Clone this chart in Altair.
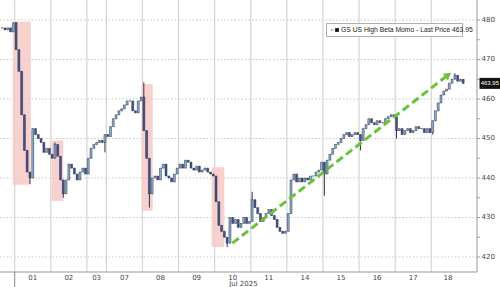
import altair as alt
import pandas as pd

# ---- data (30-minute bars, closes) ----
day_labels = ["01", "02", "03", "07", "08", "09", "10", "11", "14", "15", "16", "17", "18"]
jun30 = [478.0, 477.5, 478.0, 477.0, 479.3]
jul01 = [472.5, 467.0, 456.0, 447.0, 441.5, 440.0, 452.5, 451.0, 450.0, 449.0, 446.5, 447.5, 446.0]
jul02 = [445.0, 448.5, 445.5, 439.5, 436.0, 439.5, 443.5, 442.5, 441.0, 439.5, 441.5, 442.5, 441.0]
jul03 = [445.0, 447.5, 448.5, 449.0, 449.5, 449.0, 451.0]
jul07 = [450.5, 453.0, 455.0, 456.0, 457.0, 457.5, 458.5, 459.5, 459.5, 457.0, 456.5, 459.5, 460.5]
jul08 = [452.0, 445.0, 436.0, 440.0, 440.5, 439.5, 442.5, 443.5, 440.5, 440.0, 439.0, 441.0, 442.5]
jul09 = [443.5, 442.5, 444.5, 444.0, 442.5, 442.0, 443.0, 441.5, 442.0, 442.5, 441.5, 441.0, 440.5]
jul10 = [434.0, 428.0, 426.5, 425.0, 423.5, 430.0, 428.5, 429.5, 427.5, 428.5, 430.0, 428.5, 429.0]
jul11 = [434.5, 432.5, 431.0, 429.0, 430.0, 431.0, 432.0, 430.5, 429.5, 427.5, 426.5, 426.0, 426.5]
jul14 = [431.0, 439.5, 441.0, 439.0, 440.0, 439.0, 440.0, 439.5, 440.5, 440.5, 441.5, 442.0, 444.0]
jul15 = [441.0, 444.5, 446.0, 447.5, 448.5, 449.0, 450.0, 451.0, 451.5, 450.5, 451.0, 451.5, 451.0]
jul16 = [449.5, 452.5, 453.5, 455.0, 454.0, 453.5, 454.5, 454.0, 454.0, 455.0, 455.5, 456.0, 455.5]
jul17 = [452.0, 452.5, 451.0, 452.0, 452.5, 451.5, 452.0, 453.0, 452.5, 452.5, 451.5, 452.5, 451.5]
jul18 = [454.5, 457.0, 459.0, 461.0, 462.0, 462.5, 464.0, 465.0, 466.0, 464.5, 465.0, 463.95]

wick_high = {5: 479.5, 19: 449.0, 51: 464.2, 90: 436.5, 163: 466.5}
wick_low = {10: 438.5, 22: 435.0, 37: 446.5, 53: 432.5, 81: 422.5, 116: 435.5, 129: 447.0, 142: 450.0, 155: 451.0}

# shaded selloff boxes: (bar from, bar to, price top, price bottom)
shade_x1 = [4.3, 18.3, 50.7, 75.9]
shade_x2 = [10.8, 22.5, 54.7, 80.5]
shade_top = [479.6, 449.5, 463.8, 442.7]
shade_bot = [438.3, 434.2, 431.7, 422.5]

arrow_from = (83.4, 423.5)
arrow_to = (162.3, 466.9)

y_ticks = [420, 425, 430, 435, 440, 445, 450, 455, 460, 465, 470, 475, 480]
y_labels = [420, 430, 440, 450, 460, 470, 480]
last_price = 463.95
legend_text = "GS US High Beta Momo - Last Price 463.95"

# ---- build tables ----
days = [jul01, jul02, jul03, jul07, jul08, jul09, jul10, jul11, jul14, jul15, jul16, jul17, jul18]
closes = list(jun30)
starts, centers = [], []
for d in days:
    starts.append(len(closes))
    centers.append(len(closes) + len(d) / 2)
    closes += d

rows = []
for i, c in enumerate(closes):
    o = closes[i - 1] if i > 0 else c
    hi = max(o, c, wick_high.get(i, c))
    lo = min(o, c, wick_low.get(i, c))
    rows.append({"x": i + 0.5, "xa": i + 0.15, "xb": i + 0.85, "open": o, "close": c,
                 "high": hi, "low": lo, "dir": "up" if c >= o else "down"})
bars = pd.DataFrame(rows)

xs = alt.Scale(domain=[-0.29, 171.47], nice=False, zero=False)
ys = alt.Scale(domain=[416.2, 485.06], nice=False, zero=False)

hgrid = alt.Chart(pd.DataFrame({"v": y_labels})).mark_rule(
    color="#b9b9b9", strokeDash=[1.5, 2], strokeWidth=0.8
).encode(y=alt.Y("v:Q", scale=ys, axis=None), x=alt.value(0), x2=alt.value(477))

vgrid = alt.Chart(pd.DataFrame({"s": starts})).mark_rule(
    color="#d4d4d4", strokeWidth=1.2
).encode(x=alt.X("s:Q", scale=xs, axis=None), y=alt.value(0), y2=alt.value(272))

shade = alt.Chart(pd.DataFrame({"a": shade_x1, "b": shade_x2, "t": shade_top, "u": shade_bot})).mark_rect(
    color="#f5c9c4", opacity=0.85
).encode(x=alt.X("a:Q", scale=xs, axis=None), x2="b:Q",
         y=alt.Y("t:Q", scale=ys, axis=None), y2="u:Q")

wicks = alt.Chart(bars).mark_rule(color="#2c3647", strokeWidth=1).encode(
    x=alt.X("x:Q", scale=xs, axis=None),
    y=alt.Y("low:Q", scale=ys, axis=None), y2="high:Q")

bodies = alt.Chart(bars).mark_bar(stroke="#283245", strokeWidth=0.5).encode(
    x=alt.X("xa:Q", scale=xs, axis=None), x2="xb:Q",
    y=alt.Y("open:Q", scale=ys, axis=None),
    y2="close:Q",
    color=alt.Color("dir:N", scale=alt.Scale(domain=["up", "down"], range=["#8fb3d6", "#44528f"]),
                    legend=None))

arrow_df = pd.DataFrame({"x": [arrow_from[0], arrow_to[0] - 1.6], "y": [arrow_from[1], arrow_to[1] - 1.0]})
arrow_line = alt.Chart(arrow_df).mark_line(color="#6cc13f", strokeWidth=3, strokeDash=[8, 4]).encode(
    x=alt.X("x:Q", scale=xs, axis=None), y=alt.Y("y:Q", scale=ys, axis=None))
arrow_head = alt.Chart(pd.DataFrame({"x": [arrow_to[0] - 1.2], "y": [arrow_to[1] - 0.8]})).mark_point(
    shape="triangle-up", filled=True, color="#6cc13f", size=70, angle=52, opacity=1
).encode(x=alt.X("x:Q", scale=xs, axis=None), y=alt.Y("y:Q", scale=ys, axis=None))

leg_box = alt.Chart(pd.DataFrame({"t": [legend_text]})).mark_rect(
    fill="white", stroke="#9a9a9a", strokeWidth=0.8
).encode(x=alt.value(326.5), x2=alt.value(462.5), y=alt.value(23.5), y2=alt.value(36.5))
leg_txt = alt.Chart(pd.DataFrame({"t": [legend_text]})).mark_text(
    align="left", baseline="middle", fontSize=6.75, font="Liberation Sans", color="#222"
).encode(text="t:N", x=alt.value(341), y=alt.value(30.2))
leg_sq = alt.Chart(pd.DataFrame({"t": [legend_text]})).mark_square(
    color="#111", size=14, opacity=1
).encode(x=alt.value(337), y=alt.value(30))
leg_eq = alt.Chart(pd.DataFrame({"t": [legend_text]})).mark_text(
    align="center", baseline="middle", fontSize=6, color="#999", text="="
).encode(x=alt.value(332), y=alt.value(30))

# right axis drawn by hand
ydomain = alt.Chart(pd.DataFrame({"a": [0]})).mark_rule(color="#999", strokeWidth=1).encode(
    x=alt.value(477), y=alt.value(0), y2=alt.value(272))
yticks = alt.Chart(pd.DataFrame({"v": y_ticks})).mark_rule(color="#888", strokeWidth=0.8).encode(
    y=alt.Y("v:Q", scale=ys, axis=None), x=alt.value(477), x2=alt.value(480))
ylab = alt.Chart(pd.DataFrame({"v": y_labels})).mark_text(
    align="left", baseline="middle", fontSize=7, font="DejaVu Sans", color="#444"
).encode(y=alt.Y("v:Q", scale=ys, axis=None), x=alt.value(481.5), text="v:Q")

tag_df = pd.DataFrame({"p": [last_price], "t": [f"{last_price:.2f}"]})
tag_box = alt.Chart(tag_df).mark_rect(color="#111", yOffset=-5.5, y2Offset=5.5).encode(
    x=alt.value(479.5), x2=alt.value(500), y=alt.Y("p:Q", scale=ys, axis=None), y2="p:Q")
tag_txt = alt.Chart(tag_df).mark_text(color="white", fontSize=6, font="Liberation Sans",
                                      align="center", baseline="middle").encode(
    x=alt.value(489.8), y=alt.Y("p:Q", scale=ys, axis=None), text="t:N")

xbase = alt.Chart(pd.DataFrame({"a": [0]})).mark_rule(color="#999", strokeWidth=1).encode(
    x=alt.value(0), x2=alt.value(477), y=alt.value(272))
month_tick = alt.Chart(pd.DataFrame({"s": [starts[0]]})).mark_rule(color="#888", strokeWidth=1).encode(
    x=alt.X("s:Q", scale=xs, axis=None), y=alt.value(272), y2=alt.value(287))
xlab = alt.Chart(pd.DataFrame({"c": centers, "l": day_labels})).mark_text(
    fontSize=7, font="DejaVu Sans", color="#444", baseline="middle"
).encode(x=alt.X("c:Q", scale=xs, axis=None), y=alt.value(277.5), text="l:N")
monthlab = alt.Chart(pd.DataFrame({"c": [centers[6]], "l": ["Jul 2025"]})).mark_text(
    fontSize=7, font="DejaVu Sans", color="#444", baseline="middle", align="left", dx=-3.5
).encode(x=alt.X("c:Q", scale=xs, axis=None), y=alt.value(284), text="l:N")

chart = alt.layer(
    hgrid, vgrid, shade, wicks, bodies, arrow_line, arrow_head,
    leg_box, leg_txt, leg_sq, leg_eq, ydomain, yticks, ylab, tag_box, tag_txt,
    xbase, month_tick, xlab, monthlab
).properties(
    width=477, height=272,
    padding={"left": 0, "top": 0, "right": 23, "bottom": 15},
    autosize=alt.AutoSizeParams(type="none"),
    background="white"
).configure_view(stroke=None)

chart.save("out.html", embed_options={"renderer": "svg", "actions": False})
